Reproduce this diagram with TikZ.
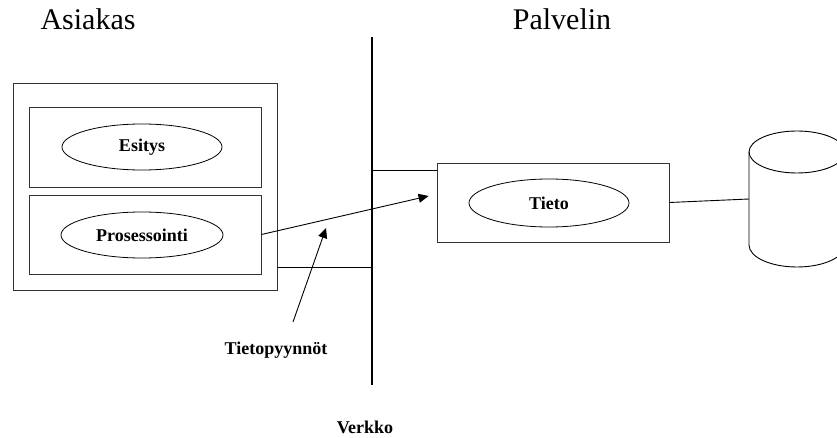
\documentclass[tikz,border=0pt]{standalone}
\usepackage{fontspec}
\setmainfont{Liberation Serif}
\usetikzlibrary{shapes.geometric,arrows.meta,positioning,calc}

\begin{document}
\begin{tikzpicture}[x=1pt, y=-1pt,
    laatikko/.style={draw=black!80, line width=0.9pt, rectangle, inner sep=0pt},
    soikio/.style={draw, ellipse, line width=0.8pt, inner sep=0pt, font=\fontsize{18}{20}\selectfont\bfseries},
    otsikko/.style={font=\fontsize{30}{34}\selectfont, anchor=base},
    selite/.style={font=\fontsize{18}{20}\selectfont\bfseries, anchor=base},
    nuoli/.style={line width=0.9pt, -{Triangle[length=10pt,width=9pt]}},
    verkko/.style={line width=2pt},
    liitos/.style={line width=1.8pt}]
  \useasboundingbox (0,0) rectangle (837,438);
  \clip (0,0) rectangle (837,438);

  \node[otsikko] (asiakasotsikko) at (88,30) {Asiakas};
  \node[otsikko] (palvelinotsikko) at (562,30) {Palvelin};

  % asiakas ja sen kerrokset
  \node[laatikko, minimum width=264pt, minimum height=207pt] (asiakas) at (145,186.5) {};
  \node[laatikko, minimum width=232pt, minimum height=80pt] (esitysbox) at (145,147) {};
  \node[laatikko, minimum width=232pt, minimum height=79pt] (prosbox) at (145,234.5) {};
  \node[soikio, minimum width=160pt, minimum height=46pt] (esitys) at (142,147) {Esitys};
  \node[soikio, minimum width=162pt, minimum height=46pt] (pros) at (142,235) {Prosessointi};

  % palvelin
  \node[laatikko, minimum width=232pt, minimum height=79pt] (tietobox) at (553,202.5) {};
  \node[soikio, minimum width=160pt, minimum height=48pt] (tieto) at (549,203) {Tieto};

  % verkko
  \coordinate (vtop) at (372,37);
  \coordinate (vbot) at (372,385);
  \draw[verkko] (vtop) -- (vbot);
  \coordinate (yla) at ([yshift=-8pt]tietobox.north west);
  \coordinate (ala) at ([yshift=23pt]asiakas.south east);
  \draw[liitos] (yla) -- (vtop |- yla);
  \draw[liitos] (ala) -- (vtop |- ala);
  \node[selite] (verkkoteksti) at (365,433) {Verkko};

  % tietokanta
  \coordinate (kanta) at (749,199);
  \draw[line width=0.9pt] (797,152) ellipse [x radius=48, y radius=21];
  \draw[line width=0.9pt] (749,152) -- (749,245) arc[start angle=180, end angle=0, x radius=48, y radius=22] -- (845,152);
  \draw[line width=0.9pt] (tietobox.east) -- (kanta);

  % pyynnot
  \coordinate (pyynto) at ([xshift=-8pt,yshift=6.5pt]tietobox.west);
  \draw[nuoli] (prosbox.east) -- (pyynto);
  \node[selite] (pyynnot) at (276,354) {Tietopyynnöt};
  \coordinate (alku) at (293,322);
  \coordinate (kohde) at (326,228);
  \draw[nuoli] (alku) -- (kohde);
\end{tikzpicture}
\end{document}
